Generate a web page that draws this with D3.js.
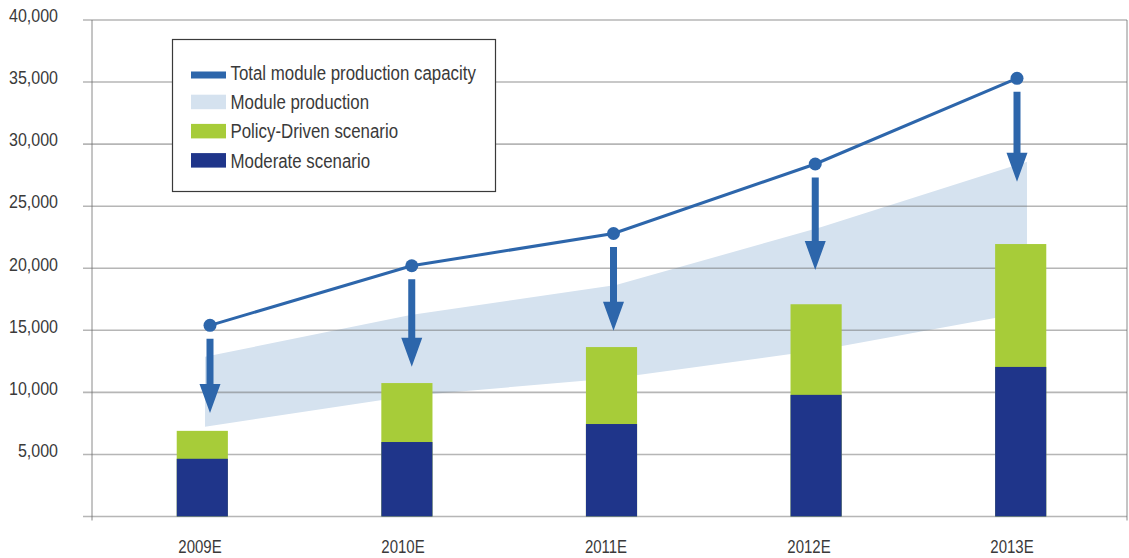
<!DOCTYPE html>
<html>
<head>
<meta charset="utf-8">
<script src="https://cdn.jsdelivr.net/npm/d3@7"></script>
<style>
  html, body { margin: 0; padding: 0; background: #ffffff; }
  svg { display: block; }
  text { font-family: "Liberation Sans", Arial, sans-serif; fill: #3a3a3a; }
</style>
</head>
<body>
<svg id="chart" width="1129" height="558"></svg>
<script>
// Years on the x axis
const years = ["2009E", "2010E", "2011E", "2012E", "2013E"];

// Scenario demand (bars): moderate level and policy-driven level
const moderate = [4650, 6000, 7450, 9800, 12050];
const policyDriven = [6900, 10750, 13650, 17100, 21950];

// Total module production capacity (line with markers)
const capacity = [15400, 20200, 22800, 28400, 35300];

// Module production range (shaded band): lower and upper edge
const productionLow = [7230, 9730, 11160, 13430, 16470];
const productionHigh = [12870, 16230, 18650, 23320, 28580];

// Where each downward arrow under the capacity marker ends
const arrowTip = [8340, 12070, 14970, 19860, 26970];

// Value axis ticks
const yTicks = [0, 5000, 10000, 15000, 20000, 25000, 30000, 35000, 40000];

const legendItems = [
  { label: "Total module production capacity", color: "#2d66ab", kind: "line" },
  { label: "Module production", color: "#d5e2ef", kind: "box" },
  { label: "Policy-Driven scenario", color: "#a7cc39", kind: "box" },
  { label: "Moderate scenario", color: "#1f358a", kind: "box" }
];

const svg = d3.select("#chart");

const plotLeft = 92, plotRight = 1127, plotTop = 20, plotBottom = 516.5;

const y = d3.scaleLinear().domain([0, 40000]).range([plotBottom, plotTop]);
const xBar = d3.scaleBand().domain(years).range([100, 1123]).paddingInner(0.75).paddingOuter(0.375);
const xLine = d3.scalePoint().domain(years).range([210, 1017]);
const xBand = d3.scalePoint().domain(years).range([205, 1027]);
const xLabel = d3.scalePoint().domain(years).range([200, 1012]);

const gridColor = "rgba(110,110,110,0.5)";

// Condensed lettering: regular face squeezed horizontally
const condensed = (x, yy, sx) => `translate(${x},${yy}) scale(${sx},1)`;

// Shaded production band
const area = d3.area()
  .x((d, i) => xBand(years[i]))
  .y0((d, i) => y(productionLow[i]))
  .y1((d, i) => y(productionHigh[i]));
svg.append("path")
  .datum(productionLow)
  .attr("d", area)
  .attr("fill", "#d5e2ef");

// Horizontal grid lines with small tick stubs left of the axis
svg.append("g")
  .selectAll("line")
  .data(yTicks)
  .join("line")
  .attr("x1", plotLeft - 9)
  .attr("x2", plotRight)
  .attr("y1", d => y(d))
  .attr("y2", d => y(d))
  .attr("stroke", gridColor)
  .attr("stroke-width", 1.6);

// Vertical frame lines
svg.append("line")
  .attr("x1", plotLeft).attr("x2", plotLeft)
  .attr("y1", y(40000)).attr("y2", y(0) + 4)
  .attr("stroke", gridColor).attr("stroke-width", 1.6);
svg.append("line")
  .attr("x1", plotRight).attr("x2", plotRight)
  .attr("y1", y(40000)).attr("y2", y(0) + 4)
  .attr("stroke", gridColor).attr("stroke-width", 1.6);

// Y tick labels
svg.append("g")
  .selectAll("text")
  .data(yTicks.filter(d => d > 0))
  .join("text")
  .attr("transform", d => condensed(58, y(d) - 3.5, 0.89))
  .attr("text-anchor", "end")
  .attr("dominant-baseline", "central")
  .style("font-size", "18px")
  .text(d => d3.format(",")(d));

// X labels
svg.append("g")
  .selectAll("text")
  .data(years)
  .join("text")
  .attr("transform", d => condensed(xLabel(d), 546.5, 0.81))
  .attr("text-anchor", "middle")
  .attr("dominant-baseline", "central")
  .style("font-size", "18.5px")
  .text(d => d);

// Bars: policy-driven level behind, moderate level in front
svg.append("g")
  .selectAll("rect")
  .data(years)
  .join("rect")
  .attr("x", d => xBar(d))
  .attr("width", xBar.bandwidth())
  .attr("y", (d, i) => y(policyDriven[i]))
  .attr("height", (d, i) => y(0) - y(policyDriven[i]))
  .attr("fill", "#a7cc39");
svg.append("g")
  .selectAll("rect")
  .data(years)
  .join("rect")
  .attr("x", d => xBar(d))
  .attr("width", xBar.bandwidth())
  .attr("y", (d, i) => y(moderate[i]))
  .attr("height", (d, i) => y(0) - y(moderate[i]))
  .attr("fill", "#1f358a");

// Capacity line and markers
const line = d3.line()
  .x((d, i) => xLine(years[i]))
  .y(d => y(d));
svg.append("path")
  .datum(capacity)
  .attr("d", line)
  .attr("fill", "none")
  .attr("stroke", "#2d66ab")
  .attr("stroke-width", 3);
svg.append("g")
  .selectAll("circle")
  .data(capacity)
  .join("circle")
  .attr("cx", (d, i) => xLine(years[i]))
  .attr("cy", d => y(d))
  .attr("r", 6.5)
  .attr("fill", "#2d66ab");

// Downward arrows from each capacity marker
const shaftW = 7, headW = 21, headH = 29, gap = 13.5;
svg.append("g")
  .selectAll("path")
  .data(years)
  .join("path")
  .attr("d", (d, i) => {
    const cx = xLine(d);
    const y0 = y(capacity[i]) + gap;
    const y1 = y(arrowTip[i]);
    const yh = y1 - headH;
    return `M${cx - shaftW / 2},${y0}L${cx + shaftW / 2},${y0}L${cx + shaftW / 2},${yh}` +
      `L${cx + headW / 2},${yh}L${cx},${y1}L${cx - headW / 2},${yh}L${cx - shaftW / 2},${yh}Z`;
  })
  .attr("fill", "#2d66ab");

// Legend
const lg = svg.append("g");
lg.append("rect")
  .attr("x", 172.5).attr("y", 39.5)
  .attr("width", 323).attr("height", 152)
  .attr("fill", "#ffffff")
  .attr("stroke", "#3a3a3a")
  .attr("stroke-width", 1.2);
const rows = lg.selectAll("g.item")
  .data(legendItems)
  .join("g")
  .attr("class", "item")
  .attr("transform", (d, i) => `translate(191,${80 + i * 29.2})`);
rows.append("rect")
  .attr("x", 0)
  .attr("y", d => d.kind === "line" ? -8.5 : -14.5)
  .attr("width", 35)
  .attr("height", d => d.kind === "line" ? 7 : 14.5)
  .attr("fill", d => d.color);
rows.append("text")
  .attr("transform", condensed(39.5, 0, 0.864))
  .style("font-size", "19.5px")
  .text(d => d.label);
</script>
</body>
</html>
